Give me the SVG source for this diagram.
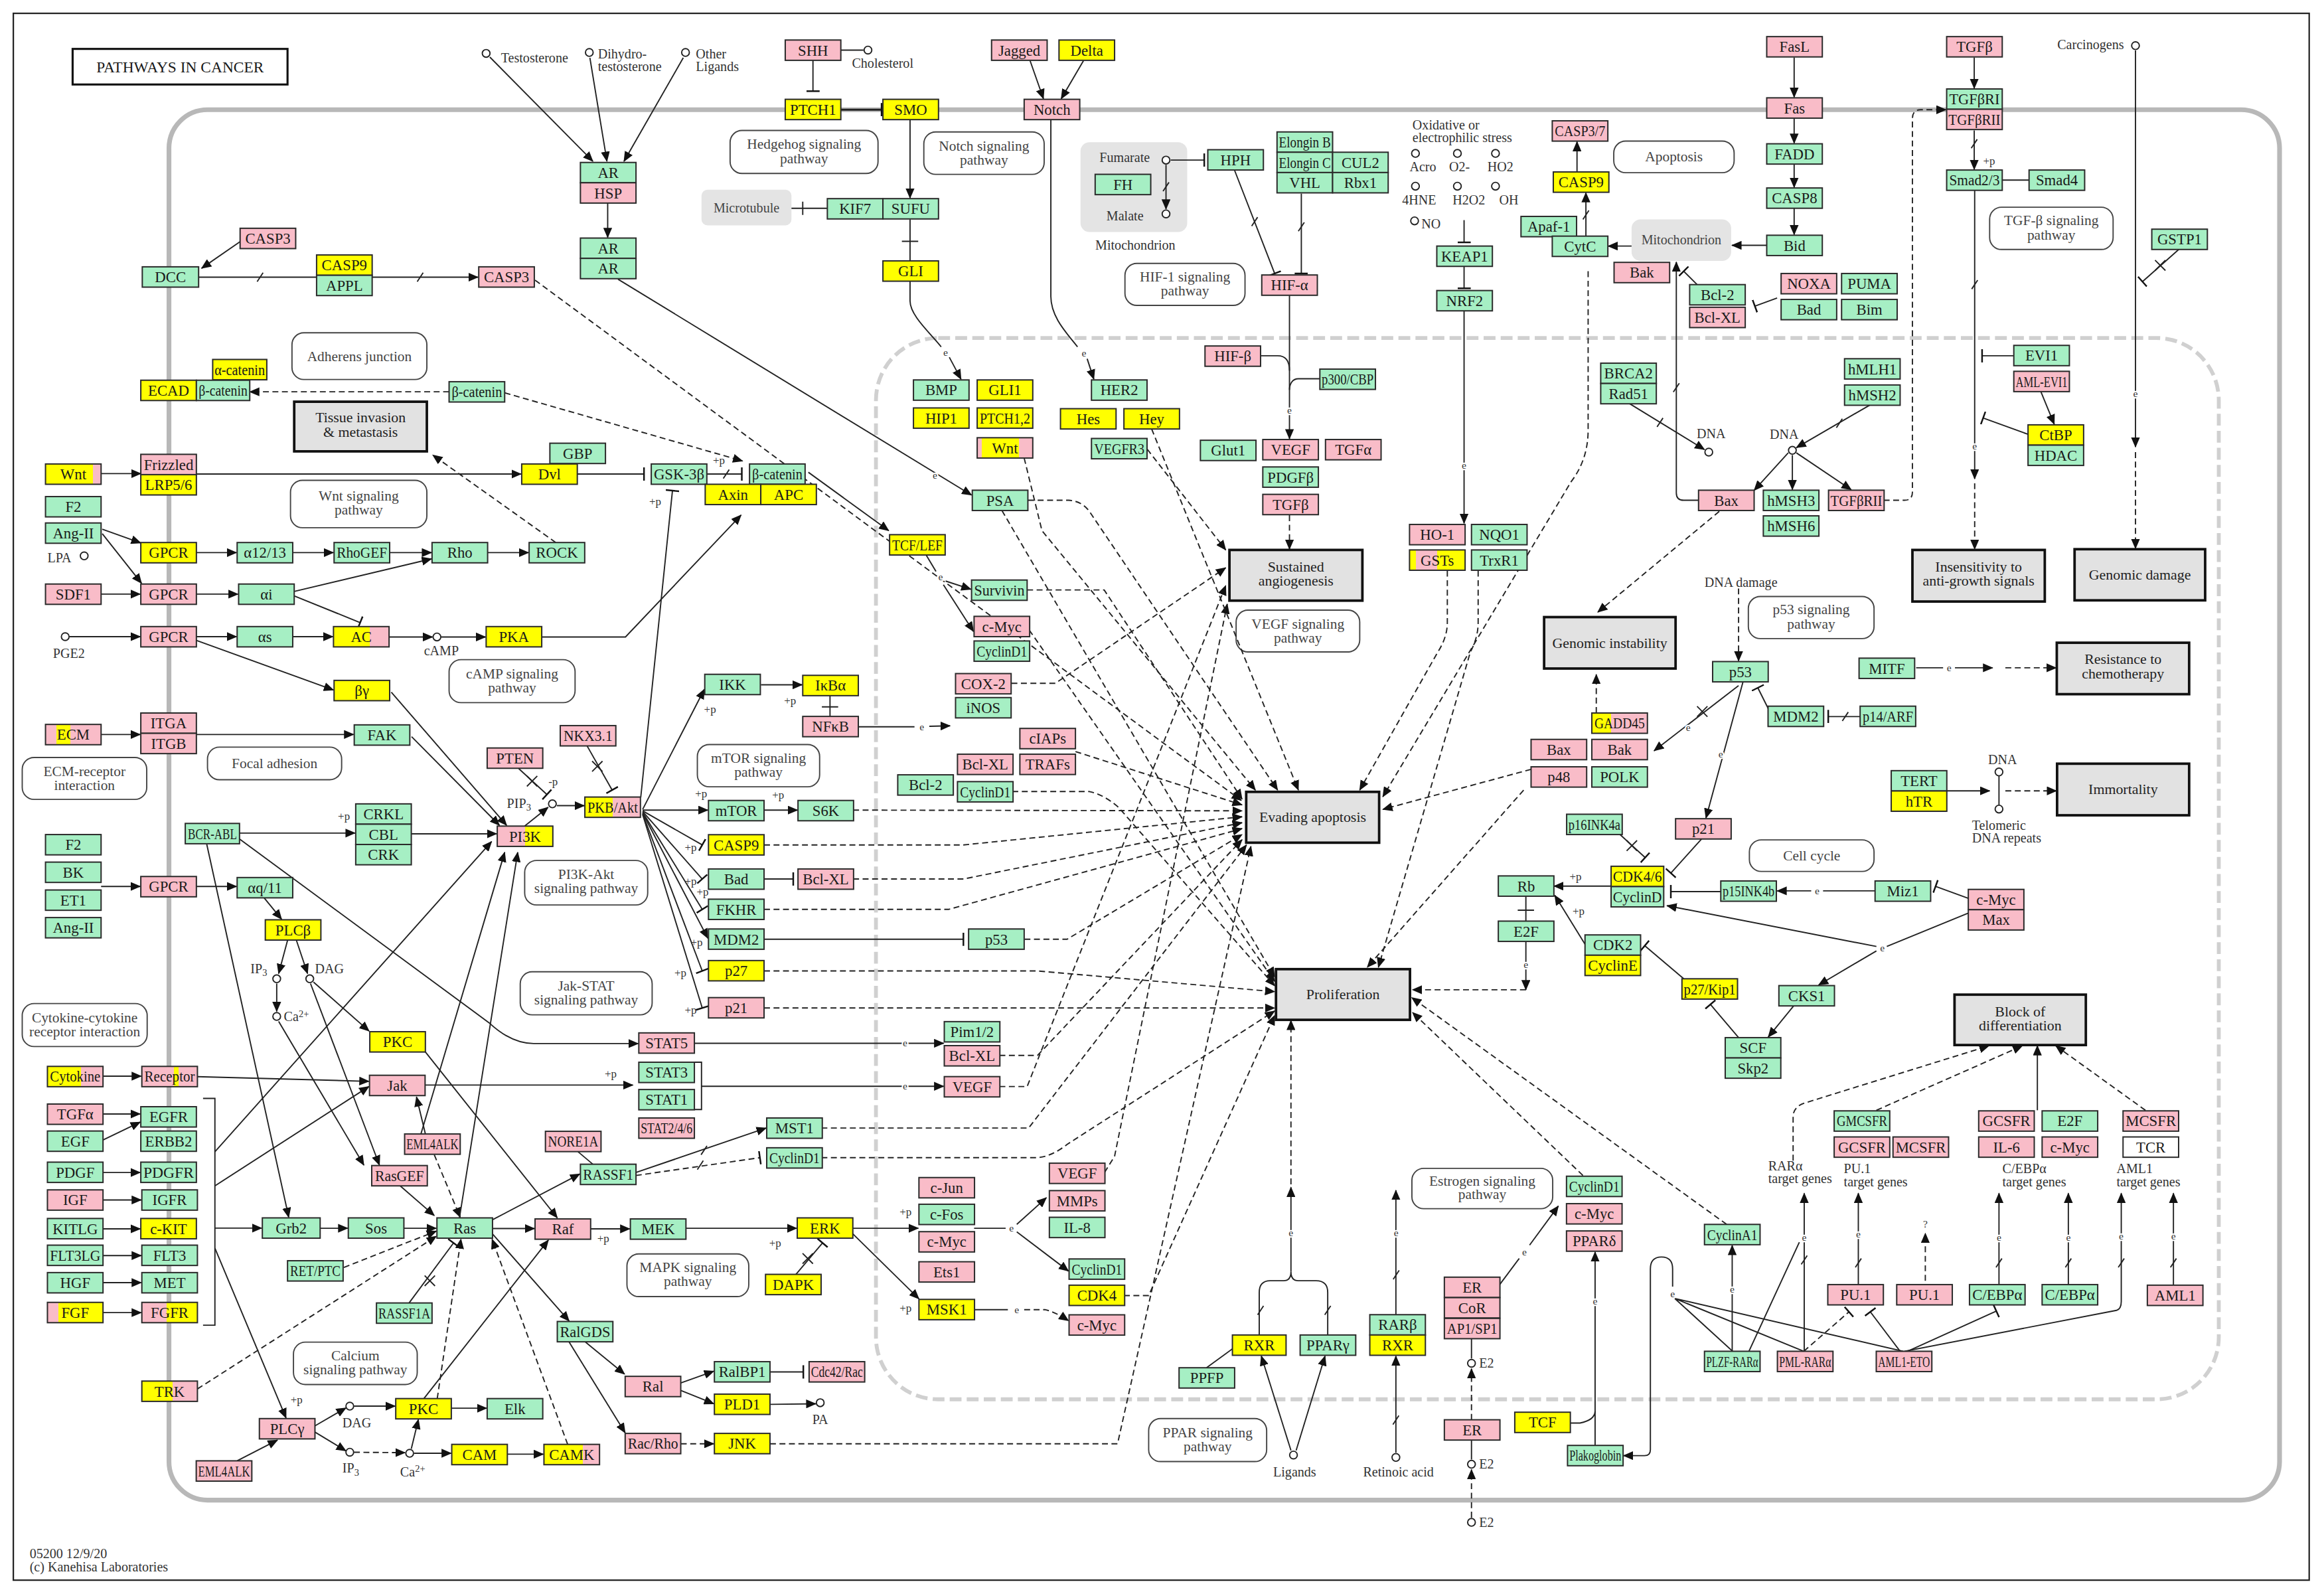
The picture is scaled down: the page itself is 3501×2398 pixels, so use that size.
<svg xmlns="http://www.w3.org/2000/svg" width="3501" height="2398" viewBox="0 0 3501 2398">
<defs>
<style>
.g{fill:#a6efc4}.p{fill:#f9bcc8}.y{fill:#ffff00}.w{fill:#fff}
rect.nd{stroke:#2b2b2b;stroke-width:0.9}
text{font-family:"Liberation Serif","Times New Roman",serif;fill:#1a1a1a}
.t{font-size:10.2px;text-anchor:middle}
.ph{fill:#e2e2e2;stroke:#111;stroke-width:1.7}
.pw{fill:#fff;stroke:#444;stroke-width:0.85}
.pt{font-size:9.6px;text-anchor:middle;fill:#444}
.pht{font-size:9.8px;text-anchor:middle;fill:#222}
.cp{fill:#e4e4e4;stroke:none}
.l{fill:none;stroke:#222;stroke-width:0.85}
.d{stroke-dasharray:4 2.4}
.a{marker-end:url(#ar)}
.i{marker-end:url(#inh)}
.c{fill:#fff;stroke:#222;stroke-width:0.85}
.s{font-size:9px;fill:#333}
.sm{font-size:9px;fill:#333;text-anchor:middle}
.e{font-size:7px;text-anchor:middle;fill:#333;stroke:#fff;stroke-width:2;paint-order:stroke}
.pp{font-size:7.6px;fill:#333}
</style>
<marker id="ar" markerUnits="userSpaceOnUse" markerWidth="7" markerHeight="6" refX="6.5" refY="3" orient="auto" viewBox="0 0 7 6"><path d="M0,0L7,3L0,6z" fill="#111"/></marker>
<marker id="inh" markerUnits="userSpaceOnUse" markerWidth="2" markerHeight="9" refX="1" refY="4.5" orient="auto" viewBox="0 0 2 9"><path d="M1,0V9" stroke="#111" stroke-width="1.1"/></marker>
<linearGradient id="gWnt"><stop offset=".85" stop-color="#ffff00"/><stop offset=".85" stop-color="#f9bcc8"/></linearGradient>
<linearGradient id="gWnt2"><stop offset=".08" stop-color="#f9bcc8"/><stop offset=".08" stop-color="#ffff00"/><stop offset=".75" stop-color="#ffff00"/><stop offset=".75" stop-color="#f9bcc8"/></linearGradient>
<linearGradient id="gAC"><stop offset=".65" stop-color="#ffff00"/><stop offset=".65" stop-color="#f9bcc8"/></linearGradient>
<linearGradient id="gECM"><stop offset=".2" stop-color="#f9bcc8"/><stop offset=".2" stop-color="#ffff00"/><stop offset=".45" stop-color="#ffff00"/><stop offset=".45" stop-color="#f9bcc8"/></linearGradient>
<linearGradient id="gPI3K"><stop offset=".5" stop-color="#f9bcc8"/><stop offset=".5" stop-color="#ffff00"/></linearGradient>
<linearGradient id="gAkt"><stop offset=".5" stop-color="#ffff00"/><stop offset=".5" stop-color="#f9bcc8"/></linearGradient>
<linearGradient id="gCyt"><stop offset=".6" stop-color="#ffff00"/><stop offset=".6" stop-color="#f9bcc8"/></linearGradient>
<linearGradient id="gRec"><stop offset=".58" stop-color="#f9bcc8"/><stop offset=".58" stop-color="#ffff00"/><stop offset=".66" stop-color="#ffff00"/><stop offset=".66" stop-color="#f9bcc8"/></linearGradient>
<linearGradient id="gFGF"><stop offset=".2" stop-color="#f9bcc8"/><stop offset=".2" stop-color="#ffff00"/></linearGradient>
<linearGradient id="gFGFR"><stop offset=".45" stop-color="#f9bcc8"/><stop offset=".45" stop-color="#ffff00"/></linearGradient>
<linearGradient id="gTRK"><stop offset=".55" stop-color="#ffff00"/><stop offset=".55" stop-color="#f9bcc8"/></linearGradient>
<linearGradient id="gCAMK"><stop offset=".7" stop-color="#ffff00"/><stop offset=".7" stop-color="#f9bcc8"/></linearGradient>
<linearGradient id="gGST"><stop offset=".12" stop-color="#ffff00"/><stop offset=".12" stop-color="#f9bcc8"/><stop offset=".5" stop-color="#f9bcc8"/><stop offset=".5" stop-color="#ffff00"/></linearGradient>
<linearGradient id="gGADD"><stop offset=".35" stop-color="#ffff00"/><stop offset=".35" stop-color="#f9bcc8"/></linearGradient>
</defs>
<rect width="3501" height="2398" fill="#fff"/>
<g transform="scale(2.2328)">
<g id="frame">
<rect x="9" y="9" width="1549" height="1057" fill="none" stroke="#222" stroke-width="1"/>
<rect x="114" y="74" width="1424" height="938" rx="26" fill="none" stroke="#b8b8b8" stroke-width="3.2"/>
<rect x="591" y="228" width="906" height="716" rx="42" fill="none" stroke="#d0d0d0" stroke-width="2.6" stroke-dasharray="8 3.5"/>
</g>
<g id="title"><rect x="49" y="33" width="145" height="24" fill="#fff" stroke="#111" stroke-width="1.4"/><text x="121.5" y="49" font-size="10.5" text-anchor="middle">PATHWAYS IN CANCER</text></g>
<g id="compartments">
<rect class="cp" x="473.3" y="128" width="60.7" height="24" rx="4"/><text class="sm" x="503.65" y="143.5" style="fill:#444">Microtubule</text>
<rect class="cp" x="729" y="96" width="72" height="60.5" rx="6"/>
<text class="sm" x="758.8" y="109.5">Fumarate</text><text class="sm" x="759" y="148.5">Malate</text><text class="sm" x="766" y="168.5">Mitochondrion</text>
<rect class="cp" x="1100.8" y="148" width="67.2" height="28" rx="6"/><text class="sm" x="1134.4" y="165" style="fill:#444">Mitochondrion</text>
</g>
<g id="pathway-links">
<rect class="pw" x="197" y="224.5" width="91" height="31.5" rx="8"/><text class="pt" x="242.5" y="243.5">Adherens junction</text>
<rect class="pw" x="196" y="324" width="92" height="32" rx="8"/><text class="pt" x="242" y="337.5">Wnt signaling</text><text class="pt" x="242" y="347">pathway</text>
<rect class="pw" x="303" y="445" width="85" height="29" rx="8"/><text class="pt" x="345.5" y="457.5">cAMP signaling</text><text class="pt" x="345.5" y="467">pathway</text>
<rect class="pw" x="15" y="511" width="84" height="28.3" rx="8"/><text class="pt" x="57" y="523.5">ECM-receptor</text><text class="pt" x="57" y="533">interaction</text>
<rect class="pw" x="140" y="504" width="90.5" height="22" rx="8"/><text class="pt" x="185.25" y="518">Focal adhesion</text>
<rect class="pw" x="354" y="580.5" width="83" height="30" rx="8"/><text class="pt" x="395.5" y="593">PI3K-Akt</text><text class="pt" x="395.5" y="602.5">signaling pathway</text>
<rect class="pw" x="351" y="655.6" width="89" height="29" rx="8"/><text class="pt" x="395.5" y="668">Jak-STAT</text><text class="pt" x="395.5" y="677.5">signaling pathway</text>
<rect class="pw" x="15" y="677" width="84.3" height="29" rx="8"/><text class="pt" x="57.15" y="689.5">Cytokine-cytokine</text><text class="pt" x="57.15" y="699">receptor interaction</text>
<rect class="pw" x="198" y="905.4" width="83.5" height="28.6" rx="8"/><text class="pt" x="239.75" y="917.5">Calcium</text><text class="pt" x="239.75" y="927">signaling pathway</text>
<rect class="pw" x="423" y="845.9" width="82.2" height="28.8" rx="8"/><text class="pt" x="464.1" y="858">MAPK signaling</text><text class="pt" x="464.1" y="867.5">pathway</text>
<rect class="pw" x="470.5" y="502.3" width="82.5" height="28.5" rx="8"/><text class="pt" x="511.75" y="514.5">mTOR signaling</text><text class="pt" x="511.75" y="524">pathway</text>
<rect class="pw" x="492.6" y="88" width="99.8" height="29" rx="8"/><text class="pt" x="542.5" y="100.5">Hedgehog signaling</text><text class="pt" x="542.5" y="110">pathway</text>
<rect class="pw" x="623.3" y="89" width="81.2" height="28.6" rx="8"/><text class="pt" x="663.9" y="101.5">Notch signaling</text><text class="pt" x="663.9" y="111">pathway</text>
<rect class="pw" x="759" y="177.7" width="81" height="28.3" rx="8"/><text class="pt" x="799.5" y="190">HIF-1 signaling</text><text class="pt" x="799.5" y="199.5">pathway</text>
<rect class="pw" x="834" y="411.6" width="83.4" height="28.2" rx="8"/><text class="pt" x="875.7" y="424">VEGF signaling</text><text class="pt" x="875.7" y="433.5">pathway</text>
<rect class="pw" x="1088.8" y="95.2" width="81.2" height="21.3" rx="8"/><text class="pt" x="1129.4" y="109">Apoptosis</text>
<rect class="pw" x="1342.4" y="139.8" width="83.3" height="28.5" rx="8"/><text class="pt" x="1384" y="152">TGF-β signaling</text><text class="pt" x="1384" y="161.5">pathway</text>
<rect class="pw" x="1179.6" y="402.4" width="84.8" height="28.4" rx="8"/><text class="pt" x="1222" y="414.5">p53 signaling</text><text class="pt" x="1222" y="424">pathway</text>
<rect class="pw" x="1180.3" y="566.6" width="84.1" height="21.3" rx="8"/><text class="pt" x="1222.35" y="580.5">Cell cycle</text>
<rect class="pw" x="775" y="957" width="79.6" height="29" rx="8"/><text class="pt" x="814.8" y="969.5">PPAR signaling</text><text class="pt" x="814.8" y="979">pathway</text>
<rect class="pw" x="952.6" y="788.2" width="95" height="27.2" rx="8"/><text class="pt" x="1000.1" y="800">Estrogen signaling</text><text class="pt" x="1000.1" y="809">pathway</text>
</g>
<g id="connectors">
<path class="l a" d="M162,163L136,181"/>
<path class="l a" d="M134,187L322.5,187"/>
<path class="l a" d="M330.5,38.5L400,108.8"/>
<path class="l a" d="M398,39L409.5,108.8"/>
<path class="l a" d="M461,39L421,108.8"/>
<path class="l a" d="M410,137V160.2"/>
<path class="l a" d="M417,188.4L655.5,334"/>
<path class="l" d="M567.3,33.8H582.6"/>
<path class="l i" d="M548.5,40.7V61.5"/>
<path class="l i" d="M567.3,74H594.8" style="stroke-width:1.3"/>
<path class="l a" d="M614,80.6V133.6"/>
<path class="l" d="M614,148V176M608.5,162.8H619.5"/>
<path class="l" d="M614,189.6V203C614,213 628,225 635,234"/>
<path class="l a" d="M640.5,241L648.4,255.8"/>
<path class="l" d="M534,140.5H558M541.6,136V145"/>
<path class="l a" d="M695,41L704,66.6"/>
<path class="l a" d="M731,41L716,66.6"/>
<path class="l" d="M709,80.6V200C709,214 720,225 727,234"/>
<path class="l a" d="M733.5,242L738,255.8"/>
<path class="l a" d="M786.7,111.2V141"/>
<path class="l i" d="M789.9,108H812.5"/>
<path class="l i" d="M833,115L860,184.5"/>
<path class="l i" d="M878,130.6V184.5"/>
<path class="l a" d="M870,199.4V296"/>
<path class="l" d="M850.8,240H862C868,240 870,244 870,250"/>
<path class="l" d="M890.5,255.5H876C872,255.5 870,259 870,263"/>
<path class="l i" d="M987.8,148.5V163.5"/>
<path class="l i" d="M987.8,180V194.5"/>
<path class="l a" d="M987.8,209.7V353"/>
<path class="l a" d="M1064,116V95.6"/>
<path class="l a" d="M1070,159.3V130"/>
<path class="l a" d="M1100.8,166H1085"/>
<path class="l a" d="M1192,165.5H1168.5"/>
<path class="l a" d="M1210.5,38.8V65.6"/>
<path class="l a" d="M1210.5,80V96.6"/>
<path class="l a" d="M1210.5,110.8V126.4"/>
<path class="l a" d="M1210.5,140.5V158.3"/>
<path class="l i" d="M1199,201L1184,206.5"/>
<path class="l a" d="M1146,337.5H1136Q1131,337.5 1131,332.5V176.8"/>
<path class="l i" d="M1145,192L1136,183"/>
<path class="l a" d="M1099,272L1150,303.3"/>
<path class="l a" d="M1332,38.8V59.6"/>
<path class="l a" d="M1332,88V114.3"/>
<path class="l" d="M1351,121.5H1369"/>
<path class="l a" d="M1332.3,128.4V323"/>
<path class="l d a" d="M1332.3,326V370.5"/>
<path class="l a" d="M1440.8,34V301.5"/>
<path class="l d a" d="M1440.8,305V370"/>
<path class="l i" d="M1470,168.3L1445.5,190"/>
<path class="l i" d="M1358.7,240H1337.3"/>
<path class="l a" d="M1377,264.3L1386,286.2"/>
<path class="l i" d="M1368.3,293L1338,282"/>
<path class="l a" d="M1262,273L1212,302"/>
<path class="l a" d="M1206.5,305.5L1183.5,330.8"/>
<path class="l a" d="M1209.3,307V330.3"/>
<path class="l a" d="M1212,305.5L1249,330.4"/>
<path class="l d a" d="M1270.9,337.5H1285Q1290.3,337.5 1290.3,332V80Q1290.3,74 1296,74H1312.9"/>
<path class="l a" d="M68.2,319.5H95"/>
<path class="l a" d="M132.5,319.8H351.6"/>
<path class="l i" d="M389.5,319.8H434.5"/>
<path class="l i" d="M476.3,319.8H500.5"/>
<path class="l i" d="M432.3,538L453.7,331"/>
<path class="l a" d="M365.6,429.7H422L500,347.5"/>
<path class="l a" d="M545.4,318.6L599.6,358"/>
<path class="l d a" d="M303,264.3H168.5"/>
<path class="l d a" d="M340.5,265L501,311"/>
<path class="l d a" d="M375,366L292,307"/>
<path class="l a" d="M69,357L95,366.3"/>
<path class="l a" d="M69,360L95.5,393.5"/>
<path class="l a" d="M132.5,372.8H159.6"/>
<path class="l a" d="M197.5,372.8H225"/>
<path class="l a" d="M263,372.8H291.1"/>
<path class="l a" d="M329,372.8H356.6"/>
<path class="l a" d="M68.2,400.8H94.6"/>
<path class="l a" d="M132.5,400.8H160.6"/>
<path class="l a" d="M198.5,399L291.1,377"/>
<path class="l i" d="M198.5,402L243,420"/>
<path class="l a" d="M46.8,429.5H94.6"/>
<path class="l a" d="M132.5,429.5H159.6"/>
<path class="l a" d="M197.5,429.5H224.6"/>
<path class="l a" d="M262.5,429.7H291.8"/>
<path class="l a" d="M297.6,429.7H327.6"/>
<path class="l a" d="M132.5,432L225,465.5"/>
<path class="l a" d="M264,467L341.8,556.8"/>
<path class="l a" d="M68.2,495.5H94.6"/>
<path class="l a" d="M132.5,495.5H238.6"/>
<path class="l a" d="M277.7,497L337,556.8"/>
<path class="l a" d="M161.6,562H239.6"/>
<path class="l a" d="M277.5,562.5H335.1"/>
<path class="l a" d="M161.6,566L330,690Q345,704 360,704H430.6"/>
<path class="l a" d="M139.5,569.6L194.8,821.2"/>
<path class="l a" d="M68.2,598H94.6"/>
<path class="l a" d="M132.5,598H159.6"/>
<path class="l a" d="M178,605.5L190,620.1"/>
<path class="l a" d="M194,634.4L188,656.8"/>
<path class="l a" d="M200,634.4L207.5,656.8"/>
<path class="l a" d="M186.7,663.5V682.3"/>
<path class="l a" d="M211.5,662.5L249,695.6"/>
<path class="l a" d="M209.5,663.5L256,786"/>
<path class="l a" d="M188,689L245.5,786"/>
<path class="l a" d="M286.5,709L376,821.6"/>
<path class="l a" d="M69.5,726H95.3"/>
<path class="l a" d="M133.2,726.3L248.9,729.5"/>
<path class="l" d="M137,741H145V894H137"/>
<path class="l a" d="M145,777L331.7,567.7"/>
<path class="l a" d="M145,800L248.9,733"/>
<path class="l a" d="M145,828.5H176.6"/>
<path class="l a" d="M145,842L193,956.6"/>
<path class="l a" d="M69.5,751.5H94.6"/>
<path class="l a" d="M69.5,769L94.6,757"/>
<path class="l a" d="M69.5,791H94.6"/>
<path class="l a" d="M69.5,809.5H95.3"/>
<path class="l a" d="M69.5,829H94.6"/>
<path class="l a" d="M69.5,847H95.3"/>
<path class="l a" d="M69.5,865.3H95.3"/>
<path class="l a" d="M69.5,885.5H95.3"/>
<path class="l a" d="M287,765L281,740"/>
<path class="l a" d="M284,765L340.5,575"/>
<path class="l d a" d="M293,779L310.5,821.2"/>
<path class="l a" d="M310,821.6L349.3,575"/>
<path class="l a" d="M216,828.6H234.6"/>
<path class="l a" d="M272.5,828.6H294.4"/>
<path class="l a" d="M270,800L293,820"/>
<path class="l d a" d="M232,855L294.4,830.5"/>
<path class="l d a" d="M133.2,937L294.4,834"/>
<path class="l i" d="M276,879L306,838.5"/>
<path class="l d a" d="M295,943.5L311,835.9"/>
<path class="l d a" d="M383,974.4L332,836"/>
<path class="l a" d="M286,943.5L370,836.6"/>
<path class="l a" d="M332,828.8H360.6"/>
<path class="l a" d="M332,823L391.2,792"/>
<path class="l a" d="M331,831L384,891.2"/>
<path class="l" d="M390,777L400,785.4"/>
<path class="l a" d="M429,791L516.9,761"/>
<path class="l d i" d="M429,793L512.7,781"/>
<path class="l a" d="M286.8,732H427"/>
<path class="l" d="M468.8,716.6H473.3V748.5H468.8"/>
<path class="l a" d="M473.3,732.8H636.7"/>
<path class="l a" d="M468.8,703.8H636.7"/>
<path class="l a" d="M398.4,829H424.9"/>
<path class="l a" d="M462.8,828.6H537.5"/>
<path class="l i" d="M537,859.7L555,838.5"/>
<path class="l a" d="M575,828.6H619.6"/>
<path class="l a" d="M575,832L620,876.2"/>
<path class="l" d="M657.2,828.6H678.5"/>
<path class="l a" d="M686,826L706,808"/>
<path class="l a" d="M686,831L720.9,857.5"/>
<path class="l" d="M657.2,883.5H680"/>
<path class="l d a" d="M691,883.5H705Q712,885 720.9,891"/>
<path class="l a" d="M395,905.4L421.4,927"/>
<path class="l a" d="M384,905.4L421.8,966.6"/>
<path class="l a" d="M459.3,933L481.6,925"/>
<path class="l a" d="M459.3,938L481.6,947"/>
<path class="l i" d="M519.8,925.5H542"/>
<path class="l a" d="M519.8,947.4L550.4,947"/>
<path class="l d a" d="M459.3,974H481.6"/>
<path class="l a" d="M212.3,962L233.4,949.8"/>
<path class="l a" d="M212.3,966L233.4,978.8"/>
<path class="l a" d="M238.8,948.6H266.6"/>
<path class="l d a" d="M238.8,979.7L273.3,980"/>
<path class="l a" d="M277.5,977.4L282.3,957.6"/>
<path class="l a" d="M279.4,980.4H304.4"/>
<path class="l a" d="M342.5,981H366.6"/>
<path class="l a" d="M304.2,950H328.3"/>
<path class="l a" d="M160,985.5L187.2,971.5"/>
<path class="l a" d="M354,557.3L369.8,544.6"/>
<path class="l i" d="M350,518.5L369,536"/>
<path class="l a" d="M375.7,543.5H394.2"/>
<path class="l i" d="M396,503L413,533"/>
<path class="l a" d="M433.6,546L475.2,465"/>
<path class="l a" d="M433.6,546.5H477.6"/>
<path class="l i" d="M433.6,547L473.8,570"/>
<path class="l i" d="M433.6,547.5L473.8,593"/>
<path class="l i" d="M433.6,548L473.8,613.5"/>
<path class="l a" d="M433.6,548.5L477.6,633"/>
<path class="l i" d="M433.6,549L473.8,655"/>
<path class="l i" d="M433.6,549.5L473.8,680"/>
<path class="l a" d="M513.4,462H541.2"/>
<path class="l" d="M560,469.4V483.3M554.5,476.9H565.5"/>
<path class="l" d="M578.8,490.3H617"/>
<path class="l a" d="M627,490L641,489.6"/>
<path class="l a" d="M515.5,546.5H538"/>
<path class="l i" d="M515.5,593H535.2"/>
<path class="l i" d="M515.5,633.6H650"/>
<path class="l" d="M625,374.6L631.5,385.5"/>
<path class="l a" d="M638,392L655.1,397.5"/>
<path class="l a" d="M636.5,394.5L656.8,426"/>
<path class="l" d="M814,922.7L831.5,910"/>
<path class="l a" d="M871,978.5L851,914.8"/>
<path class="l a" d="M874.5,978.5L894,914.8"/>
<path class="l" d="M849.6,900.6V872Q849.6,864 857,864H866Q871,864 871,858M895.8,900.6V872Q895.8,864 888,864H876Q871,864 871,858"/>
<path class="l a" d="M871,858V801"/>
<path class="l d a" d="M871,799V688.4"/>
<path class="l a" d="M941.8,980V914.8"/>
<path class="l a" d="M941.8,886.9V803"/>
<path class="l" d="M992.8,903.2V916.5"/>
<path class="l d a" d="M992.8,957.8V923.4"/>
<path class="l" d="M992.8,971.5V984.6"/>
<path class="l d a" d="M992.8,1023.8V991.4"/>
<path class="l" d="M1011.7,866.8L1025,849"/>
<path class="l a" d="M1032,840L1051.4,813.6"/>
<path class="l a" d="M1076.2,975V844.6"/>
<path class="l" d="M1058.9,960H1066Q1076,958 1076.2,952"/>
<path class="l a" d="M1128.5,868V856Q1128.5,848 1121,848Q1113.5,848 1113.5,856V978Q1113.5,982 1109.5,982H1095.4"/>
<path class="l" d="M1130,876L1169,911.6M1130,876L1217,911.6M1130,876L1284,911.6"/>
<path class="l a" d="M1168.7,911.6V840.2"/>
<path class="l" d="M1180,911.6L1214,838"/>
<path class="l a" d="M1217.3,911.6V805"/>
<path class="l a" d="M1253.8,866.6V805"/>
<path class="l d a" d="M1299,864V832"/>
<path class="l a" d="M1348.7,866.6V805"/>
<path class="l a" d="M1395.5,866.6V805"/>
<path class="l a" d="M1285,911.6L1428,884Q1431.2,883 1431.2,878V805"/>
<path class="l a" d="M1466.4,867V805"/>
<path class="l d i" d="M1217,911.6L1247.5,885"/>
<path class="l i" d="M1282,911.6L1261.9,885"/>
<path class="l i" d="M1287,911.6L1346.9,884.5"/>
<path class="l d a" d="M1209.8,783V752Q1211,746 1218,744L1341.9,705.5"/>
<path class="l d a" d="M1266,749L1364.5,705.5"/>
<path class="l a" d="M1374.6,749V705.5"/>
<path class="l d a" d="M1447.5,749L1387,705.5"/>
<path class="l a" d="M1313.4,533.5H1342.4"/>
<path class="l" d="M1348.7,523.4V543.2"/>
<path class="l d a" d="M1353,533.5H1387.5"/>
<path class="l" d="M1292.8,450.5H1311"/>
<path class="l a" d="M1319,450.5H1344.4"/>
<path class="l d a" d="M1353,450.5H1387.3"/>
<path class="l d a" d="M1173,397V445.9"/>
<path class="l i" d="M1193,478L1186,464"/>
<path class="l i" d="M1255,483.4H1233.5"/>
<path class="l a" d="M1173,462.5L1116,506.5"/>
<path class="l a" d="M1176,460L1151,551.9"/>
<path class="l d a" d="M1077,481V455"/>
<path class="l d a" d="M1160,345L1078,413"/>
<path class="l i" d="M1093,563L1110,578.5"/>
<path class="l i" d="M1148,566L1127.3,589"/>
<path class="l i" d="M1161,601.5H1127.3"/>
<path class="l" d="M1265.1,601H1230"/>
<path class="l a" d="M1222,601H1199"/>
<path class="l i" d="M1328,606L1305.9,598"/>
<path class="l" d="M1328,616L1273,638.5"/>
<path class="l a" d="M1266,638.5L1124.7,611"/>
<path class="l a" d="M1266,641.5L1227,664.5"/>
<path class="l a" d="M1087,597.8H1048.4"/>
<path class="l a" d="M1069.4,637L1049,604"/>
<path class="l" d="M1029.5,604.8V621.4M1024,614H1035"/>
<path class="l a" d="M1029.5,635.3V667.7"/>
<path class="l d a" d="M1029.5,667.7H953"/>
<path class="l i" d="M1136,660.3L1109.7,638"/>
<path class="l i" d="M1173,700L1154,677.6"/>
<path class="l a" d="M1210,678.8L1193,699.6"/>
<path class="l d a" d="M361,189L837.5,540"/>
<path class="l d a" d="M870,347.6V370.5"/>
<path class="l d a" d="M774,303L827,371"/>
<path class="l d a" d="M682.4,461H712L827,383"/>
<path class="l d a" d="M674.3,733H693L827,395"/>
<path class="l d a" d="M745.2,791L752,780L828,407.5"/>
<path class="l d a" d="M693,398H745L838,539"/>
<path class="l d a" d="M725.6,507L838,543"/>
<path class="l d a" d="M575.6,546.5L838,547"/>
<path class="l d a" d="M515.5,570H650L838,551"/>
<path class="l d a" d="M575.6,593H650L838,555"/>
<path class="l d a" d="M515.5,613.5H640L838,559"/>
<path class="l d a" d="M691.2,633.6H720L838,563"/>
<path class="l d a" d="M674.3,712H700L838,566.5"/>
<path class="l d a" d="M554.2,761H694L841,570"/>
<path class="l d a" d="M519.5,974H754L844,571"/>
<path class="l d a" d="M691,309L703,358L847,533"/>
<path class="l d a" d="M693.7,337.5H721Q730,338 735,345L862,533"/>
<path class="l d a" d="M777,289.4L876,533"/>
<path class="l d a" d="M1071.5,183V290Q1071.5,310 1060,325L933,537.5"/>
<path class="l d a" d="M976.5,385V420Q976.5,430 970,440L917.4,533"/>
<path class="l d a" d="M997.3,385V420Q997.3,430 992,440L930,652.5"/>
<path class="l d a" d="M1033,519L933,546"/>
<path class="l d a" d="M1028,533L922.5,652.5"/>
<path class="l d a" d="M676,344.4L860,659"/>
<path class="l d a" d="M694.4,425L860,662"/>
<path class="l d a" d="M683,534H735Q745,536 755,545L860,665"/>
<path class="l d a" d="M515.5,655H700L860,669"/>
<path class="l d a" d="M515.5,680H860"/>
<path class="l d a" d="M554.2,781H700Q710,780 720,772L860,682"/>
<path class="l d a" d="M758.3,874H775L860,685"/>
<path class="l d a" d="M1068,793L953,683"/>
<path class="l d a" d="M1165,826L952.5,673"/>
<path class="l" d="M173.5,190L177.5,184M281.5,190L285.5,184M784.7,129L788.7,123M844.5,152.5L848.5,146.5M876,156L880,150M1068,148L1072,142M1129,264.5L1133,258.5M1118,288L1122,282M1330,100L1334,94M1330.3,195L1334.3,189M1239,288.5L1243,282.5M488,322.8L492,316.8M473,779L477,773M470.5,789L474.5,783M848.5,887L852.5,881M893.8,887L897.8,881M939.8,961L943.8,955M940,863L944,857M1215.3,853L1219.3,847M1251.8,855L1255.8,849M1346.7,855L1350.7,849M1393.5,855L1397.5,849M1429.2,855L1433.2,849M1464.4,855L1468.4,849M1243,486.4L1247,480.4"/>
<path class="l" d="M1454,175.5L1461,182.5M1454,182.5L1461,175.5M286.5,860.5L293.5,867.5M286.5,867.5L293.5,860.5M355.5,523.5L362.5,530.5M355.5,530.5L362.5,523.5M399.5,513.5L406.5,520.5M399.5,520.5L406.5,513.5M541.5,845.5L548.5,852.5M541.5,852.5L548.5,845.5M1145,476.5L1152,483.5M1145,483.5L1152,476.5M1097.5,567L1104.5,574M1097.5,574L1104.5,567"/>
</g>
<g id="phenotypes">
<g id="ph_tissue"><rect class="ph" x="198.5" y="271" width="89.5" height="33.5"/><text class="pht" x="243.25" y="285">Tissue invasion</text><text class="pht" x="243.25" y="294.5">&amp; metastasis</text></g>
<g id="ph_angio"><rect class="ph" x="829.5" y="371" width="89.7" height="34.2"/><text class="pht" x="874.35" y="385.5">Sustained</text><text class="pht" x="874.35" y="395">angiogenesis</text></g>
<g id="ph_evading"><rect class="ph" x="840.8" y="534.2" width="89.7" height="34.3"/><text class="pht" x="885.65" y="554.5">Evading apoptosis</text></g>
<g id="ph_prolif"><rect class="ph" x="860.9" y="653.8" width="90.4" height="34.2"/><text class="pht" x="906.1" y="674">Proliferation</text></g>
<g id="ph_geninst"><rect class="ph" x="1041.8" y="416.3" width="88.7" height="34.7"/><text class="pht" x="1086.15" y="437">Genomic instability</text></g>
<g id="ph_insens"><rect class="ph" x="1290.3" y="371" width="89.3" height="34.8"/><text class="pht" x="1334.95" y="385.5">Insensitivity to</text><text class="pht" x="1334.95" y="395">anti-growth signals</text></g>
<g id="ph_gendam"><rect class="ph" x="1399.7" y="370.5" width="88.1" height="34.5"/><text class="pht" x="1443.75" y="391">Genomic damage</text></g>
<g id="ph_resist"><rect class="ph" x="1387.7" y="433.6" width="89.3" height="34.7"/><text class="pht" x="1432.35" y="448">Resistance to</text><text class="pht" x="1432.35" y="457.5">chemotherapy</text></g>
<g id="ph_immort"><rect class="ph" x="1387.9" y="515.2" width="89.1" height="34.8"/><text class="pht" x="1432.45" y="535.5">Immortality</text></g>
<g id="ph_block"><rect class="ph" x="1318.7" y="671" width="88.6" height="34"/><text class="pht" x="1363" y="685.5">Block of</text><text class="pht" x="1363" y="695">differentiation</text></g>
</g>
<g id="nodes">
<g id="wnt1"><rect class="nd" fill="url(#gWnt)" x="30.7" y="313" width="37.5" height="13.7"/><text class="t" x="49.45" y="323.4">Wnt</text></g>
<g id="f2a"><rect class="nd g" x="30.7" y="335" width="37.5" height="13.7"/><text class="t" x="49.45" y="345.4">F2</text></g>
<g id="ang2a"><rect class="nd g" x="30.7" y="352.8" width="37.5" height="13.7"/><text class="t" x="49.45" y="363.2">Ang-II</text></g>
<g id="sdf1"><rect class="nd p" x="30.7" y="394" width="37.5" height="13.7"/><text class="t" x="49.45" y="404.4">SDF1</text></g>
<g id="ecm"><rect class="nd" fill="url(#gECM)" x="30.7" y="488.7" width="37.5" height="13.7"/><text class="t" x="49.45" y="499.1">ECM</text></g>
<g id="f2b"><rect class="nd g" x="30.7" y="563" width="37.5" height="13.7"/><text class="t" x="49.45" y="573.4">F2</text></g>
<g id="bk"><rect class="nd g" x="30.7" y="581.6" width="37.5" height="13.7"/><text class="t" x="49.45" y="592">BK</text></g>
<g id="et1"><rect class="nd g" x="30.7" y="600.4" width="37.5" height="13.7"/><text class="t" x="49.45" y="610.8">ET1</text></g>
<g id="ang2b"><rect class="nd g" x="30.7" y="619" width="37.5" height="13.7"/><text class="t" x="49.45" y="629.4">Ang-II</text></g>
<g id="cytokine"><rect class="nd" fill="url(#gCyt)" x="32" y="719.4" width="37.5" height="13.7"/><text class="t" x="50.75" y="729.8" textLength="34" lengthAdjust="spacingAndGlyphs">Cytokine</text></g>
<g id="tgfa1"><rect class="nd p" x="32" y="744.8" width="37.5" height="13.7"/><text class="t" x="50.75" y="755.2">TGFα</text></g>
<g id="egf"><rect class="nd g" x="32" y="763" width="37.5" height="13.7"/><text class="t" x="50.75" y="773.4">EGF</text></g>
<g id="pdgf"><rect class="nd g" x="32" y="784" width="37.5" height="13.7"/><text class="t" x="50.75" y="794.4">PDGF</text></g>
<g id="igf"><rect class="nd p" x="32" y="802.7" width="37.5" height="13.7"/><text class="t" x="50.75" y="813.1">IGF</text></g>
<g id="kitlg"><rect class="nd g" x="32" y="822" width="37.5" height="13.7"/><text class="t" x="50.75" y="832.4">KITLG</text></g>
<g id="flt3lg"><rect class="nd g" x="32" y="840" width="37.5" height="13.7"/><text class="t" x="50.75" y="850.4" textLength="34" lengthAdjust="spacingAndGlyphs">FLT3LG</text></g>
<g id="hgf"><rect class="nd g" x="32" y="858.5" width="37.5" height="13.7"/><text class="t" x="50.75" y="868.9">HGF</text></g>
<g id="fgf"><rect class="nd" fill="url(#gFGF)" x="32" y="878.6" width="37.5" height="13.7"/><text class="t" x="50.75" y="889">FGF</text></g>
<g id="frizzled"><rect class="nd p" x="95" y="306.5" width="37.5" height="13.7"/><text class="t" x="113.75" y="316.9">Frizzled</text><rect class="nd y" x="95" y="320.2" width="37.5" height="13.7"/><text class="t" x="113.75" y="330.6">LRP5/6</text></g>
<g id="ecad"><rect class="nd y" x="95" y="256.5" width="37.5" height="13.7"/><text class="t" x="113.75" y="266.9">ECAD</text></g>
<g id="bcat1"><rect class="nd g" x="132.5" y="256.5" width="36" height="13.7"/><text class="t" x="150.5" y="266.9" textLength="33" lengthAdjust="spacingAndGlyphs">β-catenin</text></g>
<g id="acat"><rect class="nd y" x="143.5" y="242.5" width="36.5" height="13.7"/><text class="t" x="161.75" y="252.9" textLength="34" lengthAdjust="spacingAndGlyphs">α-catenin</text></g>
<g id="gpcr1"><rect class="nd y" x="95" y="366" width="37.5" height="13.7"/><text class="t" x="113.75" y="376.4">GPCR</text></g>
<g id="gpcr2"><rect class="nd p" x="95" y="394" width="37.5" height="13.7"/><text class="t" x="113.75" y="404.4">GPCR</text></g>
<g id="gpcr3"><rect class="nd p" x="95" y="422.7" width="37.5" height="13.7"/><text class="t" x="113.75" y="433.1">GPCR</text></g>
<g id="itg"><rect class="nd p" x="95" y="481" width="37.5" height="13.7"/><text class="t" x="113.75" y="491.4">ITGA</text><rect class="nd p" x="95" y="494.7" width="37.5" height="13.7"/><text class="t" x="113.75" y="505.1">ITGB</text></g>
<g id="gpcr4"><rect class="nd p" x="95" y="591.3" width="37.5" height="13.7"/><text class="t" x="113.75" y="601.7">GPCR</text></g>
<g id="receptor"><rect class="nd" fill="url(#gRec)" x="95.7" y="719.4" width="37.5" height="13.7"/><text class="t" x="114.45" y="729.8" textLength="34" lengthAdjust="spacingAndGlyphs">Receptor</text></g>
<g id="egfr"><rect class="nd g" x="95" y="746.6" width="37.5" height="13.7"/><text class="t" x="113.75" y="757">EGFR</text></g>
<g id="erbb2"><rect class="nd g" x="95" y="763" width="37.5" height="13.7"/><text class="t" x="113.75" y="773.4">ERBB2</text></g>
<g id="pdgfr"><rect class="nd g" x="95" y="784" width="37.5" height="13.7"/><text class="t" x="113.75" y="794.4" textLength="34" lengthAdjust="spacingAndGlyphs">PDGFR</text></g>
<g id="igfr"><rect class="nd g" x="95.7" y="802.7" width="37.5" height="13.7"/><text class="t" x="114.45" y="813.1">IGFR</text></g>
<g id="ckit"><rect class="nd y" x="95" y="822" width="37.5" height="13.7"/><text class="t" x="113.75" y="832.4">c-KIT</text></g>
<g id="flt3"><rect class="nd g" x="95.7" y="840" width="37.5" height="13.7"/><text class="t" x="114.45" y="850.4">FLT3</text></g>
<g id="met"><rect class="nd g" x="95.7" y="858.5" width="37.5" height="13.7"/><text class="t" x="114.45" y="868.9">MET</text></g>
<g id="fgfr"><rect class="nd" fill="url(#gFGFR)" x="95.7" y="878.6" width="37.5" height="13.7"/><text class="t" x="114.45" y="889">FGFR</text></g>
<g id="trk"><rect class="nd" fill="url(#gTRK)" x="95.7" y="931.7" width="37.5" height="13.7"/><text class="t" x="114.45" y="942.1">TRK</text></g>
<g id="dcc"><rect class="nd g" x="96" y="180" width="38" height="13.7"/><text class="t" x="115" y="190.4">DCC</text></g>
<g id="casp3a"><rect class="nd p" x="162" y="154" width="37.5" height="13.7"/><text class="t" x="180.75" y="164.4">CASP3</text></g>
<g id="casp9appl"><rect class="nd y" x="213.6" y="172" width="37.5" height="13.7"/><text class="t" x="232.35" y="182.4">CASP9</text><rect class="nd g" x="213.6" y="185.7" width="37.5" height="13.7"/><text class="t" x="232.35" y="196.1">APPL</text></g>
<g id="casp3b"><rect class="nd p" x="323" y="180" width="37.5" height="13.7"/><text class="t" x="341.75" y="190.4">CASP3</text></g>
<g id="bcat2"><rect class="nd g" x="303" y="257.5" width="37.5" height="13.7"/><text class="t" x="321.75" y="267.9" textLength="34" lengthAdjust="spacingAndGlyphs">β-catenin</text></g>
<g id="gbp"><rect class="nd g" x="371" y="299" width="37.5" height="13.7"/><text class="t" x="389.75" y="309.4">GBP</text></g>
<g id="dvl"><rect class="nd y" x="352" y="313" width="37.5" height="13.7"/><text class="t" x="370.75" y="323.4">Dvl</text></g>
<g id="a1213"><rect class="nd g" x="160" y="366" width="37.5" height="13.7"/><text class="t" x="178.75" y="376.4">α12/13</text></g>
<g id="rhogef"><rect class="nd g" x="225.4" y="366" width="37.5" height="13.7"/><text class="t" x="244.15" y="376.4" textLength="34" lengthAdjust="spacingAndGlyphs">RhoGEF</text></g>
<g id="rho"><rect class="nd g" x="291.5" y="366" width="37.5" height="13.7"/><text class="t" x="310.25" y="376.4">Rho</text></g>
<g id="rock"><rect class="nd g" x="357" y="366" width="37.5" height="13.7"/><text class="t" x="375.75" y="376.4">ROCK</text></g>
<g id="ai"><rect class="nd g" x="161" y="394" width="37.5" height="13.7"/><text class="t" x="179.75" y="404.4">αi</text></g>
<g id="as"><rect class="nd g" x="160" y="422.7" width="37.5" height="13.7"/><text class="t" x="178.75" y="433.1">αs</text></g>
<g id="ac"><rect class="nd" fill="url(#gAC)" x="225" y="422.7" width="37.5" height="13.7"/><text class="t" x="243.75" y="433.1">AC</text></g>
<g id="pka"><rect class="nd y" x="328" y="422.7" width="37.5" height="13.7"/><text class="t" x="346.75" y="433.1">PKA</text></g>
<g id="bg"><rect class="nd y" x="225.4" y="459" width="37.5" height="13.7"/><text class="t" x="244.15" y="469.4">βγ</text></g>
<g id="fak"><rect class="nd g" x="239" y="489" width="37.5" height="13.7"/><text class="t" x="257.75" y="499.4">FAK</text></g>
<g id="pten"><rect class="nd p" x="328.7" y="504.6" width="37.5" height="13.7"/><text class="t" x="347.45" y="515">PTEN</text></g>
<g id="nkx31"><rect class="nd p" x="378" y="489.5" width="37.5" height="13.7"/><text class="t" x="396.75" y="499.9" textLength="33" lengthAdjust="spacingAndGlyphs">NKX3.1</text></g>
<g id="pi3k"><rect class="nd" fill="url(#gPI3K)" x="335.5" y="557.3" width="37.5" height="13.7"/><text class="t" x="354.25" y="567.7">PI3K</text></g>
<g id="crk"><rect class="nd g" x="240" y="542.3" width="37.5" height="13.7"/><text class="t" x="258.75" y="552.7">CRKL</text><rect class="nd g" x="240" y="556" width="37.5" height="13.7"/><text class="t" x="258.75" y="566.4">CBL</text><rect class="nd g" x="240" y="569.7" width="37.5" height="13.7"/><text class="t" x="258.75" y="580.1">CRK</text></g>
<g id="bcrabl"><rect class="nd g" x="125" y="555.5" width="36.6" height="13.7"/><text class="t" x="143.3" y="565.9" textLength="33" lengthAdjust="spacingAndGlyphs">BCR-ABL</text></g>
<g id="aq11"><rect class="nd g" x="160" y="592" width="37.5" height="13.7"/><text class="t" x="178.75" y="602.4">αq/11</text></g>
<g id="plcb"><rect class="nd y" x="179" y="620.5" width="37.5" height="13.7"/><text class="t" x="197.75" y="630.9">PLCβ</text></g>
<g id="pkc1"><rect class="nd y" x="249.5" y="696" width="37.5" height="13.7"/><text class="t" x="268.25" y="706.4">PKC</text></g>
<g id="jak"><rect class="nd p" x="249.3" y="725.4" width="37.5" height="13.7"/><text class="t" x="268.05" y="735.8">Jak</text></g>
<g id="grb2"><rect class="nd g" x="177" y="821.6" width="39" height="13.7"/><text class="t" x="196.5" y="832">Grb2</text></g>
<g id="sos"><rect class="nd g" x="235" y="821.6" width="37.5" height="13.7"/><text class="t" x="253.75" y="832">Sos</text></g>
<g id="ras"><rect class="nd g" x="294.8" y="821.6" width="37.5" height="13.7"/><text class="t" x="313.55" y="832">Ras</text></g>
<g id="raf"><rect class="nd p" x="361" y="822.3" width="37.5" height="13.7"/><text class="t" x="379.75" y="832.7">Raf</text></g>
<g id="retptc"><rect class="nd g" x="194" y="850.5" width="37.5" height="13.7"/><text class="t" x="212.75" y="860.9" textLength="34" lengthAdjust="spacingAndGlyphs">RET/PTC</text></g>
<g id="rasgef"><rect class="nd p" x="250.8" y="786.3" width="37.5" height="13.7"/><text class="t" x="269.55" y="796.7" textLength="33" lengthAdjust="spacingAndGlyphs">RasGEF</text></g>
<g id="eml1"><rect class="nd p" x="273" y="765" width="37.5" height="13.7"/><text class="t" x="291.75" y="775.4" textLength="35" lengthAdjust="spacingAndGlyphs">EML4ALK</text></g>
<g id="nore1a"><rect class="nd p" x="368" y="763.2" width="37.5" height="13.7"/><text class="t" x="386.75" y="773.6" textLength="34" lengthAdjust="spacingAndGlyphs">NORE1A</text></g>
<g id="rassf1a"><rect class="nd g" x="254" y="879" width="37.5" height="13.7"/><text class="t" x="272.75" y="889.4" textLength="35" lengthAdjust="spacingAndGlyphs">RASSF1A</text></g>
<g id="ralgds"><rect class="nd g" x="376" y="891.5" width="37.5" height="13.7"/><text class="t" x="394.75" y="901.9" textLength="34" lengthAdjust="spacingAndGlyphs">RalGDS</text></g>
<g id="plcg"><rect class="nd p" x="175" y="957" width="37.5" height="13.7"/><text class="t" x="193.75" y="967.4">PLCγ</text></g>
<g id="eml2"><rect class="nd p" x="132.4" y="985.5" width="37.5" height="13.7"/><text class="t" x="151.15" y="995.9" textLength="35" lengthAdjust="spacingAndGlyphs">EML4ALK</text></g>
<g id="pkc2"><rect class="nd y" x="267" y="943.5" width="37.5" height="13.7"/><text class="t" x="285.75" y="953.9">PKC</text></g>
<g id="elk"><rect class="nd g" x="328.7" y="943.5" width="37.5" height="13.7"/><text class="t" x="347.45" y="953.9">Elk</text></g>
<g id="cam"><rect class="nd y" x="304.8" y="974.4" width="37.5" height="13.7"/><text class="t" x="323.55" y="984.8">CAM</text></g>
<g id="camk"><rect class="nd" fill="url(#gCAMK)" x="367" y="974.4" width="37.5" height="13.7"/><text class="t" x="385.75" y="984.8">CAMK</text></g>
<g id="ar_hsp"><rect class="nd g" x="391.6" y="109.6" width="37.5" height="13.7"/><text class="t" x="410.35" y="120">AR</text><rect class="nd p" x="391.6" y="123.3" width="37.5" height="13.7"/><text class="t" x="410.35" y="133.7">HSP</text></g>
<g id="ar_ar"><rect class="nd g" x="391.6" y="160.6" width="37.5" height="13.7"/><text class="t" x="410.35" y="171">AR</text><rect class="nd g" x="391.6" y="174.3" width="37.5" height="13.7"/><text class="t" x="410.35" y="184.7">AR</text></g>
<g id="shh"><rect class="nd p" x="529.8" y="27" width="37.5" height="13.7"/><text class="t" x="548.55" y="37.4">SHH</text></g>
<g id="ptch1"><rect class="nd y" x="529.8" y="67" width="37.5" height="13.7"/><text class="t" x="548.55" y="77.4">PTCH1</text></g>
<g id="smo"><rect class="nd y" x="595.7" y="67" width="37.5" height="13.7"/><text class="t" x="614.45" y="77.4">SMO</text></g>
<g id="kif7sufu"><rect class="nd g" x="558.2" y="134" width="37.5" height="13.7"/><text class="t" x="576.95" y="144.4">KIF7</text><rect class="nd g" x="595.7" y="134" width="37.5" height="13.7"/><text class="t" x="614.45" y="144.4">SUFU</text></g>
<g id="gli"><rect class="nd y" x="595.7" y="176" width="37.5" height="13.7"/><text class="t" x="614.45" y="186.4">GLI</text></g>
<g id="jagged"><rect class="nd p" x="669" y="27" width="37.5" height="13.7"/><text class="t" x="687.75" y="37.4">Jagged</text></g>
<g id="delta"><rect class="nd y" x="714.5" y="27" width="37.5" height="13.7"/><text class="t" x="733.25" y="37.4">Delta</text></g>
<g id="notch"><rect class="nd p" x="691" y="67" width="37.5" height="13.7"/><text class="t" x="709.75" y="77.4">Notch</text></g>
<g id="fh"><rect class="nd g" x="738.9" y="117.6" width="37.5" height="13.7"/><text class="t" x="757.65" y="128">FH</text></g>
<g id="hph"><rect class="nd g" x="814.9" y="101" width="37.5" height="13.7"/><text class="t" x="833.65" y="111.4">HPH</text></g>
<g id="vhlcomplex"><rect class="nd g" x="861.6" y="89" width="37.5" height="13.7"/><text class="t" x="880.35" y="99.4" textLength="35" lengthAdjust="spacingAndGlyphs">Elongin B</text><rect class="nd g" x="861.6" y="102.7" width="37.5" height="13.7"/><text class="t" x="880.35" y="113.1" textLength="35" lengthAdjust="spacingAndGlyphs">Elongin C</text><rect class="nd g" x="899.1" y="102.7" width="37.5" height="13.7"/><text class="t" x="917.85" y="113.1">CUL2</text><rect class="nd g" x="861.6" y="116.4" width="37.5" height="13.7"/><text class="t" x="880.35" y="126.8">VHL</text><rect class="nd g" x="899.1" y="116.4" width="37.5" height="13.7"/><text class="t" x="917.85" y="126.8">Rbx1</text></g>
<g id="hifa"><rect class="nd p" x="851.3" y="185.5" width="37.5" height="13.7"/><text class="t" x="870.05" y="195.9">HIF-α</text></g>
<g id="keap1"><rect class="nd g" x="969.4" y="166" width="37.5" height="13.7"/><text class="t" x="988.15" y="176.4">KEAP1</text></g>
<g id="nrf2"><rect class="nd g" x="969.4" y="196" width="37.5" height="13.7"/><text class="t" x="988.15" y="206.4">NRF2</text></g>
<g id="casp37"><rect class="nd p" x="1047.3" y="81.5" width="37.5" height="13.7"/><text class="t" x="1066.05" y="91.9" textLength="34" lengthAdjust="spacingAndGlyphs">CASP3/7</text></g>
<g id="casp9b"><rect class="nd y" x="1048" y="116" width="37.5" height="13.7"/><text class="t" x="1066.75" y="126.4">CASP9</text></g>
<g id="apaf1"><rect class="nd g" x="1026.2" y="146" width="37.5" height="13.7"/><text class="t" x="1044.95" y="156.4">Apaf-1</text></g>
<g id="cytc"><rect class="nd g" x="1047.3" y="159.3" width="37.5" height="13.7"/><text class="t" x="1066.05" y="169.7">CytC</text></g>
<g id="bak1"><rect class="nd p" x="1089" y="177" width="37.5" height="13.7"/><text class="t" x="1107.75" y="187.4">Bak</text></g>
<g id="bcl2bclxl"><rect class="nd g" x="1140" y="192" width="37.5" height="13.7"/><text class="t" x="1158.75" y="202.4">Bcl-2</text><rect class="nd p" x="1140" y="207.3" width="37.5" height="13.7"/><text class="t" x="1158.75" y="217.7">Bcl-XL</text></g>
<g id="fasl"><rect class="nd p" x="1192" y="24.7" width="37.5" height="13.7"/><text class="t" x="1210.75" y="35.1">FasL</text></g>
<g id="fas"><rect class="nd p" x="1192" y="66" width="37.5" height="13.7"/><text class="t" x="1210.75" y="76.4">Fas</text></g>
<g id="fadd"><rect class="nd g" x="1192" y="97" width="37.5" height="13.7"/><text class="t" x="1210.75" y="107.4">FADD</text></g>
<g id="casp8"><rect class="nd g" x="1192" y="126.8" width="37.5" height="13.7"/><text class="t" x="1210.75" y="137.2">CASP8</text></g>
<g id="bid"><rect class="nd g" x="1192" y="158.7" width="37.5" height="13.7"/><text class="t" x="1210.75" y="169.1">Bid</text></g>
<g id="bh3"><rect class="nd p" x="1201.7" y="184.5" width="37.5" height="13.7"/><text class="t" x="1220.45" y="194.9">NOXA</text><rect class="nd g" x="1242.5" y="184.5" width="37.5" height="13.7"/><text class="t" x="1261.25" y="194.9">PUMA</text><rect class="nd g" x="1201.7" y="202" width="37.5" height="13.7"/><text class="t" x="1220.45" y="212.4">Bad</text><rect class="nd g" x="1242.5" y="202" width="37.5" height="13.7"/><text class="t" x="1261.25" y="212.4">Bim</text></g>
<g id="tgfb1"><rect class="nd p" x="1313.4" y="24.7" width="37.5" height="13.7"/><text class="t" x="1332.15" y="35.1">TGFβ</text></g>
<g id="tgfbr"><rect class="nd g" x="1313.4" y="60" width="37.5" height="13.7"/><text class="t" x="1332.15" y="70.4" textLength="34" lengthAdjust="spacingAndGlyphs">TGFβRI</text><rect class="nd p" x="1313.4" y="73.7" width="37.5" height="13.7"/><text class="t" x="1332.15" y="84.1" textLength="35" lengthAdjust="spacingAndGlyphs">TGFβRII</text></g>
<g id="smad23"><rect class="nd g" x="1313.4" y="114.7" width="37.5" height="13.7"/><text class="t" x="1332.15" y="125.1" textLength="34" lengthAdjust="spacingAndGlyphs">Smad2/3</text></g>
<g id="smad4"><rect class="nd g" x="1369" y="114.7" width="37.5" height="13.7"/><text class="t" x="1387.75" y="125.1">Smad4</text></g>
<g id="gstp1"><rect class="nd g" x="1451.8" y="154.6" width="37.5" height="13.7"/><text class="t" x="1470.55" y="165">GSTP1</text></g>
<g id="evi1"><rect class="nd g" x="1358.7" y="233" width="37.5" height="13.7"/><text class="t" x="1377.45" y="243.4">EVI1</text><rect class="nd p" x="1358.7" y="250.5" width="37.5" height="13.7"/><text class="t" x="1377.45" y="260.9" textLength="35" lengthAdjust="spacingAndGlyphs">AML-EVI1</text></g>
<g id="ctbp"><rect class="nd y" x="1368.3" y="286.6" width="37.5" height="13.7"/><text class="t" x="1387.05" y="297">CtBP</text><rect class="nd g" x="1368.3" y="300.3" width="37.5" height="13.7"/><text class="t" x="1387.05" y="310.7">HDAC</text></g>
<g id="hmlh1"><rect class="nd g" x="1244.5" y="242" width="37.5" height="13.7"/><text class="t" x="1263.25" y="252.4">hMLH1</text></g>
<g id="hmsh2"><rect class="nd g" x="1244.5" y="259.7" width="37.5" height="13.7"/><text class="t" x="1263.25" y="270.1">hMSH2</text></g>
<g id="hmsh3"><rect class="nd g" x="1189.7" y="330.7" width="37.5" height="13.7"/><text class="t" x="1208.45" y="341.1">hMSH3</text><rect class="nd g" x="1189.7" y="348" width="37.5" height="13.7"/><text class="t" x="1208.45" y="358.4">hMSH6</text></g>
<g id="tgfbr2b"><rect class="nd p" x="1233.7" y="330.7" width="37.5" height="13.7"/><text class="t" x="1252.45" y="341.1" textLength="35" lengthAdjust="spacingAndGlyphs">TGFβRII</text></g>
<g id="bax1"><rect class="nd p" x="1146" y="330.7" width="37.5" height="13.7"/><text class="t" x="1164.75" y="341.1">Bax</text></g>
<g id="brca2"><rect class="nd g" x="1080" y="245" width="37.5" height="13.7"/><text class="t" x="1098.75" y="255.4">BRCA2</text><rect class="nd g" x="1080" y="258.7" width="37.5" height="13.7"/><text class="t" x="1098.75" y="269.1">Rad51</text></g>
<g id="glitargets"><rect class="nd g" x="616.3" y="256.3" width="37.5" height="13.7"/><text class="t" x="635.05" y="266.7">BMP</text><rect class="nd y" x="659.3" y="256.3" width="37.5" height="13.7"/><text class="t" x="678.05" y="266.7">GLI1</text><rect class="nd y" x="616.3" y="275.2" width="37.5" height="13.7"/><text class="t" x="635.05" y="285.6">HIP1</text><rect class="nd y" x="659.3" y="275.2" width="37.5" height="13.7"/><text class="t" x="678.05" y="285.6" textLength="34" lengthAdjust="spacingAndGlyphs">PTCH1,2</text><rect class="nd" fill="url(#gWnt2)" x="659.3" y="295.3" width="37.5" height="13.7"/><text class="t" x="678.05" y="305.7">Wnt</text></g>
<g id="notchtargets"><rect class="nd g" x="736.4" y="256.3" width="37.5" height="13.7"/><text class="t" x="755.15" y="266.7">HER2</text><rect class="nd y" x="715.5" y="275.7" width="37.5" height="13.7"/><text class="t" x="734.25" y="286.1">Hes</text><rect class="nd y" x="758.3" y="275.7" width="37.5" height="13.7"/><text class="t" x="777.05" y="286.1">Hey</text><rect class="nd g" x="736.4" y="295.8" width="37.5" height="13.7"/><text class="t" x="755.15" y="306.2" textLength="34" lengthAdjust="spacingAndGlyphs">VEGFR3</text></g>
<g id="psa"><rect class="nd g" x="656" y="330.7" width="37.5" height="13.7"/><text class="t" x="674.75" y="341.1">PSA</text></g>
<g id="gsk3b"><rect class="nd g" x="439.4" y="313" width="37.5" height="13.7"/><text class="t" x="458.15" y="323.4">GSK-3β</text></g>
<g id="bcatcomplex"><rect class="nd g" x="505.7" y="313" width="37.5" height="13.7"/><text class="t" x="524.45" y="323.4" textLength="34" lengthAdjust="spacingAndGlyphs">β-catenin</text><rect class="nd y" x="475.8" y="326.7" width="37.5" height="13.7"/><text class="t" x="494.55" y="337.1">Axin</text><rect class="nd y" x="513.3" y="326.7" width="37.5" height="13.7"/><text class="t" x="532.05" y="337.1">APC</text></g>
<g id="hifb"><rect class="nd p" x="813" y="233.4" width="37.5" height="13.7"/><text class="t" x="831.75" y="243.8">HIF-β</text></g>
<g id="p300"><rect class="nd g" x="890.5" y="249" width="37.5" height="13.7"/><text class="t" x="909.25" y="259.4" textLength="35" lengthAdjust="spacingAndGlyphs">p300/CBP</text></g>
<g id="hiftargets"><rect class="nd g" x="809.9" y="297" width="37.5" height="13.7"/><text class="t" x="828.65" y="307.4">Glut1</text><rect class="nd p" x="852" y="296.5" width="37.5" height="13.7"/><text class="t" x="870.75" y="306.9">VEGF</text><rect class="nd p" x="894.3" y="296.5" width="37.5" height="13.7"/><text class="t" x="913.05" y="306.9">TGFα</text><rect class="nd g" x="852" y="315" width="37.5" height="13.7"/><text class="t" x="870.75" y="325.4">PDGFβ</text><rect class="nd p" x="852" y="333.5" width="37.5" height="13.7"/><text class="t" x="870.75" y="343.9">TGFβ</text></g>
<g id="nrf2targets"><rect class="nd p" x="951" y="353.8" width="37.5" height="13.7"/><text class="t" x="969.75" y="364.2">HO-1</text><rect class="nd g" x="992.8" y="353.8" width="37.5" height="13.7"/><text class="t" x="1011.55" y="364.2">NQO1</text><rect class="nd" fill="url(#gGST)" x="951" y="371" width="37.5" height="13.7"/><text class="t" x="969.75" y="381.4">GSTs</text><rect class="nd g" x="992.8" y="371" width="37.5" height="13.7"/><text class="t" x="1011.55" y="381.4">TrxR1</text></g>
<g id="tcflef"><rect class="nd y" x="600.2" y="360.7" width="37.5" height="13.7"/><text class="t" x="618.95" y="371.1" textLength="34" lengthAdjust="spacingAndGlyphs">TCF/LEF</text></g>
<g id="survivin"><rect class="nd g" x="655.5" y="391.3" width="37.5" height="13.7"/><text class="t" x="674.25" y="401.7" textLength="34" lengthAdjust="spacingAndGlyphs">Survivin</text></g>
<g id="cmyc1"><rect class="nd p" x="657.2" y="415.8" width="37.5" height="13.7"/><text class="t" x="675.95" y="426.2">c-Myc</text><rect class="nd g" x="657.2" y="432.4" width="37.5" height="13.7"/><text class="t" x="675.95" y="442.8" textLength="34" lengthAdjust="spacingAndGlyphs">CyclinD1</text></g>
<g id="cox2"><rect class="nd p" x="644.7" y="454.4" width="37.5" height="13.7"/><text class="t" x="663.45" y="464.8">COX-2</text><rect class="nd g" x="644.7" y="470.6" width="37.5" height="13.7"/><text class="t" x="663.45" y="481">iNOS</text></g>
<g id="ikk"><rect class="nd g" x="475.5" y="454.9" width="37.5" height="13.7"/><text class="t" x="494.25" y="465.3">IKK</text></g>
<g id="ikba"><rect class="nd y" x="541.6" y="455.6" width="37.5" height="13.7"/><text class="t" x="560.35" y="466">IκBα</text></g>
<g id="nfkb"><rect class="nd p" x="541.6" y="483.3" width="37.5" height="13.7"/><text class="t" x="560.35" y="493.7">NFκB</text></g>
<g id="nfkbtargets"><rect class="nd p" x="688.1" y="491.4" width="37.5" height="13.7"/><text class="t" x="706.85" y="501.8">cIAPs</text><rect class="nd p" x="688.1" y="508.8" width="37.5" height="13.7"/><text class="t" x="706.85" y="519.2">TRAFs</text><rect class="nd p" x="646" y="508.8" width="37.5" height="13.7"/><text class="t" x="664.75" y="519.2">Bcl-XL</text><rect class="nd g" x="646" y="527.3" width="37.5" height="13.7"/><text class="t" x="664.75" y="537.7" textLength="34" lengthAdjust="spacingAndGlyphs">CyclinD1</text><rect class="nd g" x="605.7" y="522.7" width="37.5" height="13.7"/><text class="t" x="624.45" y="533.1">Bcl-2</text></g>
<g id="akt"><rect class="nd" fill="url(#gAkt)" x="394.6" y="537.7" width="37.5" height="13.7"/><text class="t" x="413.35" y="548.1" textLength="34" lengthAdjust="spacingAndGlyphs">PKB/Akt</text></g>
<g id="mtor"><rect class="nd g" x="478" y="540" width="37.5" height="13.7"/><text class="t" x="496.75" y="550.4">mTOR</text></g>
<g id="s6k"><rect class="nd g" x="538.4" y="540" width="37.5" height="13.7"/><text class="t" x="557.15" y="550.4">S6K</text></g>
<g id="casp9c"><rect class="nd y" x="478" y="563.1" width="37.5" height="13.7"/><text class="t" x="496.75" y="573.5">CASP9</text></g>
<g id="bad2"><rect class="nd g" x="478" y="586.2" width="37.5" height="13.7"/><text class="t" x="496.75" y="596.6">Bad</text></g>
<g id="bclxl3"><rect class="nd p" x="538.4" y="586.2" width="37.5" height="13.7"/><text class="t" x="557.15" y="596.6">Bcl-XL</text></g>
<g id="fkhr"><rect class="nd g" x="478" y="606.6" width="37.5" height="13.7"/><text class="t" x="496.75" y="617">FKHR</text></g>
<g id="mdm2a"><rect class="nd g" x="478" y="626.7" width="37.5" height="13.7"/><text class="t" x="496.75" y="637.1">MDM2</text></g>
<g id="p53a"><rect class="nd g" x="653.5" y="626.7" width="37.5" height="13.7"/><text class="t" x="672.25" y="637.1">p53</text></g>
<g id="p27"><rect class="nd y" x="478" y="648" width="37.5" height="13.7"/><text class="t" x="496.75" y="658.4">p27</text></g>
<g id="p21a"><rect class="nd p" x="478" y="673" width="37.5" height="13.7"/><text class="t" x="496.75" y="683.4">p21</text></g>
<g id="stat5"><rect class="nd p" x="431" y="696.8" width="37.5" height="13.7"/><text class="t" x="449.75" y="707.2">STAT5</text></g>
<g id="stats"><rect class="nd g" x="431" y="716.6" width="37.5" height="13.7"/><text class="t" x="449.75" y="727">STAT3</text><rect class="nd g" x="431" y="735" width="37.5" height="13.7"/><text class="t" x="449.75" y="745.4">STAT1</text></g>
<g id="stat246"><rect class="nd p" x="431" y="754.2" width="37.5" height="13.7"/><text class="t" x="449.75" y="764.6" textLength="35" lengthAdjust="spacingAndGlyphs">STAT2/4/6</text></g>
<g id="stat5targets"><rect class="nd g" x="637.1" y="689.2" width="37.5" height="13.7"/><text class="t" x="655.85" y="699.6">Pim1/2</text><rect class="nd p" x="637.1" y="705.4" width="37.5" height="13.7"/><text class="t" x="655.85" y="715.8">Bcl-XL</text></g>
<g id="vegf2"><rect class="nd p" x="637.1" y="726.3" width="37.5" height="13.7"/><text class="t" x="655.85" y="736.7">VEGF</text></g>
<g id="mst1"><rect class="nd g" x="517.3" y="754.2" width="37.5" height="13.7"/><text class="t" x="536.05" y="764.6">MST1</text></g>
<g id="cycd1c"><rect class="nd g" x="517.3" y="774.3" width="37.5" height="13.7"/><text class="t" x="536.05" y="784.7" textLength="34" lengthAdjust="spacingAndGlyphs">CyclinD1</text></g>
<g id="rassf1"><rect class="nd g" x="391.6" y="785.4" width="37.5" height="13.7"/><text class="t" x="410.35" y="795.8" textLength="34" lengthAdjust="spacingAndGlyphs">RASSF1</text></g>
<g id="mek"><rect class="nd g" x="425.3" y="822.3" width="37.5" height="13.7"/><text class="t" x="444.05" y="832.7">MEK</text></g>
<g id="erk"><rect class="nd y" x="537.9" y="821.6" width="37.5" height="13.7"/><text class="t" x="556.65" y="832">ERK</text></g>
<g id="dapk"><rect class="nd y" x="516.5" y="859.7" width="37.5" height="13.7"/><text class="t" x="535.25" y="870.1">DAPK</text></g>
<g id="aptargets"><rect class="nd p" x="620" y="794.4" width="37.5" height="13.7"/><text class="t" x="638.75" y="804.8">c-Jun</text><rect class="nd g" x="620" y="812.4" width="37.5" height="13.7"/><text class="t" x="638.75" y="822.8">c-Fos</text><rect class="nd p" x="620" y="830.9" width="37.5" height="13.7"/><text class="t" x="638.75" y="841.3">c-Myc</text><rect class="nd p" x="620" y="851.2" width="37.5" height="13.7"/><text class="t" x="638.75" y="861.6">Ets1</text></g>
<g id="msk1"><rect class="nd y" x="620" y="876.6" width="37.5" height="13.7"/><text class="t" x="638.75" y="887">MSK1</text></g>
<g id="aptg2"><rect class="nd p" x="708" y="784.7" width="37.5" height="13.7"/><text class="t" x="726.75" y="795.1">VEGF</text><rect class="nd p" x="708" y="803.2" width="37.5" height="13.7"/><text class="t" x="726.75" y="813.6">MMPs</text><rect class="nd g" x="708" y="821.2" width="37.5" height="13.7"/><text class="t" x="726.75" y="831.6">IL-8</text></g>
<g id="aptg3"><rect class="nd g" x="721.3" y="849.3" width="37.5" height="13.7"/><text class="t" x="740.05" y="859.7" textLength="34" lengthAdjust="spacingAndGlyphs">CyclinD1</text><rect class="nd y" x="721.3" y="867" width="37.5" height="13.7"/><text class="t" x="740.05" y="877.4">CDK4</text><rect class="nd p" x="721.3" y="887" width="37.5" height="13.7"/><text class="t" x="740.05" y="897.4">c-Myc</text></g>
<g id="ral"><rect class="nd p" x="421.8" y="928.5" width="37.5" height="13.7"/><text class="t" x="440.55" y="938.9">Ral</text></g>
<g id="ralbp1"><rect class="nd g" x="482" y="918.6" width="37.5" height="13.7"/><text class="t" x="500.75" y="929">RalBP1</text></g>
<g id="pld1"><rect class="nd y" x="482" y="940.5" width="37.5" height="13.7"/><text class="t" x="500.75" y="950.9">PLD1</text></g>
<g id="cdc42"><rect class="nd p" x="545.9" y="918.6" width="37.5" height="13.7"/><text class="t" x="564.65" y="929" textLength="35" lengthAdjust="spacingAndGlyphs">Cdc42/Rac</text></g>
<g id="racrho"><rect class="nd p" x="421.8" y="967" width="37.5" height="13.7"/><text class="t" x="440.55" y="977.4" textLength="34" lengthAdjust="spacingAndGlyphs">Rac/Rho</text></g>
<g id="jnk"><rect class="nd y" x="482" y="967" width="37.5" height="13.7"/><text class="t" x="500.75" y="977.4">JNK</text></g>
<g id="ppfp"><rect class="nd g" x="795.5" y="922.7" width="37.5" height="13.7"/><text class="t" x="814.25" y="933.1">PPFP</text></g>
<g id="rxr1"><rect class="nd y" x="831.5" y="900.6" width="36.2" height="13.7"/><text class="t" x="849.6" y="911">RXR</text></g>
<g id="pparg"><rect class="nd g" x="877.2" y="900.6" width="37.5" height="13.7"/><text class="t" x="895.95" y="911">PPARγ</text></g>
<g id="rarb"><rect class="nd g" x="924.2" y="886.9" width="37.5" height="13.7"/><text class="t" x="942.95" y="897.3">RARβ</text><rect class="nd y" x="924.2" y="900.6" width="37.5" height="13.7"/><text class="t" x="942.95" y="911">RXR</text></g>
<g id="ercomplex"><rect class="nd p" x="974.5" y="861.6" width="37.5" height="13.7"/><text class="t" x="993.25" y="872">ER</text><rect class="nd p" x="974.5" y="875.4" width="37.5" height="13.7"/><text class="t" x="993.25" y="885.8">CoR</text><rect class="nd p" x="974.5" y="889.4" width="37.5" height="13.7"/><text class="t" x="993.25" y="899.8" textLength="34" lengthAdjust="spacingAndGlyphs">AP1/SP1</text></g>
<g id="er2"><rect class="nd p" x="974.5" y="957.8" width="37.5" height="13.7"/><text class="t" x="993.25" y="968.2">ER</text></g>
<g id="ertargets"><rect class="nd g" x="1056.9" y="793.5" width="37.5" height="13.7"/><text class="t" x="1075.65" y="803.9" textLength="34" lengthAdjust="spacingAndGlyphs">CyclinD1</text><rect class="nd p" x="1056.9" y="812" width="37.5" height="13.7"/><text class="t" x="1075.65" y="822.4">c-Myc</text><rect class="nd p" x="1056.9" y="830.4" width="37.5" height="13.7"/><text class="t" x="1075.65" y="840.8">PPARδ</text></g>
<g id="tcf"><rect class="nd y" x="1022" y="952.7" width="37.5" height="13.7"/><text class="t" x="1040.75" y="963.1">TCF</text></g>
<g id="plako"><rect class="nd g" x="1057.6" y="975.1" width="37.5" height="13.7"/><text class="t" x="1076.35" y="985.5" textLength="35" lengthAdjust="spacingAndGlyphs">Plakoglobin</text></g>
<g id="p53targets"><rect class="nd" fill="url(#gGADD)" x="1074" y="481" width="37.5" height="13.7"/><text class="t" x="1092.75" y="491.4" textLength="34" lengthAdjust="spacingAndGlyphs">GADD45</text><rect class="nd p" x="1033" y="498.8" width="37.5" height="13.7"/><text class="t" x="1051.75" y="509.2">Bax</text><rect class="nd p" x="1074" y="498.8" width="37.5" height="13.7"/><text class="t" x="1092.75" y="509.2">Bak</text><rect class="nd p" x="1033" y="517.3" width="37.5" height="13.7"/><text class="t" x="1051.75" y="527.7">p48</text><rect class="nd g" x="1074" y="517.3" width="37.5" height="13.7"/><text class="t" x="1092.75" y="527.7">POLK</text></g>
<g id="p53b"><rect class="nd g" x="1155.5" y="446.3" width="37.5" height="13.7"/><text class="t" x="1174.25" y="456.7">p53</text></g>
<g id="mdm2b"><rect class="nd g" x="1192.9" y="476.4" width="37.5" height="13.7"/><text class="t" x="1211.65" y="486.8">MDM2</text></g>
<g id="p14arf"><rect class="nd g" x="1255" y="476.4" width="37.5" height="13.7"/><text class="t" x="1273.75" y="486.8" textLength="34" lengthAdjust="spacingAndGlyphs">p14/ARF</text></g>
<g id="mitf"><rect class="nd g" x="1254.3" y="444" width="37.5" height="13.7"/><text class="t" x="1273.05" y="454.4">MITF</text></g>
<g id="tert"><rect class="nd g" x="1276" y="519.9" width="37.5" height="13.7"/><text class="t" x="1294.75" y="530.3">TERT</text><rect class="nd y" x="1276" y="533.6" width="37.5" height="13.7"/><text class="t" x="1294.75" y="544">hTR</text></g>
<g id="p21b"><rect class="nd p" x="1130.5" y="552.3" width="37.5" height="13.7"/><text class="t" x="1149.25" y="562.7">p21</text></g>
<g id="p16"><rect class="nd g" x="1057" y="549.3" width="37.5" height="13.7"/><text class="t" x="1075.75" y="559.7" textLength="35" lengthAdjust="spacingAndGlyphs">p16INK4a</text></g>
<g id="cdk46"><rect class="nd y" x="1087" y="584.4" width="35.5" height="13.7"/><text class="t" x="1104.75" y="594.8" textLength="33" lengthAdjust="spacingAndGlyphs">CDK4/6</text><rect class="nd g" x="1087" y="598.1" width="35.5" height="13.7"/><text class="t" x="1104.75" y="608.5" textLength="33" lengthAdjust="spacingAndGlyphs">CyclinD</text></g>
<g id="rb"><rect class="nd g" x="1010.9" y="590.9" width="37.5" height="13.7"/><text class="t" x="1029.65" y="601.3">Rb</text></g>
<g id="e2f1"><rect class="nd g" x="1010.9" y="621.4" width="37.5" height="13.7"/><text class="t" x="1029.65" y="631.8">E2F</text></g>
<g id="cdk2"><rect class="nd g" x="1069.4" y="630.7" width="37.5" height="13.7"/><text class="t" x="1088.15" y="641.1">CDK2</text><rect class="nd y" x="1069.4" y="644.4" width="37.5" height="13.7"/><text class="t" x="1088.15" y="654.8">CyclinE</text></g>
<g id="p27kip"><rect class="nd y" x="1134.8" y="660.3" width="37.5" height="13.7"/><text class="t" x="1153.55" y="670.7" textLength="35" lengthAdjust="spacingAndGlyphs">p27/Kip1</text></g>
<g id="p15"><rect class="nd g" x="1161" y="594.3" width="37.5" height="13.7"/><text class="t" x="1179.75" y="604.7" textLength="35" lengthAdjust="spacingAndGlyphs">p15INK4b</text></g>
<g id="miz1"><rect class="nd g" x="1265.1" y="594.3" width="37.5" height="13.7"/><text class="t" x="1283.85" y="604.7">Miz1</text></g>
<g id="cmycmax"><rect class="nd p" x="1328" y="600" width="37.5" height="13.7"/><text class="t" x="1346.75" y="610.4">c-Myc</text><rect class="nd p" x="1328" y="613.7" width="37.5" height="13.7"/><text class="t" x="1346.75" y="624.1">Max</text></g>
<g id="cks1"><rect class="nd g" x="1200.2" y="664.9" width="37.5" height="13.7"/><text class="t" x="1218.95" y="675.3">CKS1</text></g>
<g id="scf"><rect class="nd g" x="1164" y="700" width="37.5" height="13.7"/><text class="t" x="1182.75" y="710.4">SCF</text><rect class="nd g" x="1164" y="713.7" width="37.5" height="13.7"/><text class="t" x="1182.75" y="724.1">Skp2</text></g>
<g id="cyca1"><rect class="nd g" x="1150" y="826" width="37.5" height="13.7"/><text class="t" x="1168.75" y="836.4" textLength="34" lengthAdjust="spacingAndGlyphs">CyclinA1</text></g>
<g id="plzf"><rect class="nd g" x="1150" y="911.6" width="37.5" height="13.7"/><text class="t" x="1168.75" y="922" textLength="35" lengthAdjust="spacingAndGlyphs">PLZF-RARα</text></g>
<g id="pmlrara"><rect class="nd p" x="1199.2" y="911.6" width="37.5" height="13.7"/><text class="t" x="1217.95" y="922" textLength="35" lengthAdjust="spacingAndGlyphs">PML-RARα</text></g>
<g id="aml1eto"><rect class="nd p" x="1265.9" y="911.6" width="37.5" height="13.7"/><text class="t" x="1284.65" y="922" textLength="35" lengthAdjust="spacingAndGlyphs">AML1-ETO</text></g>
<g id="pu1a"><rect class="nd p" x="1233.2" y="866.6" width="37.5" height="13.7"/><text class="t" x="1251.95" y="877">PU.1</text></g>
<g id="pu1b"><rect class="nd p" x="1279.7" y="866.6" width="37.5" height="13.7"/><text class="t" x="1298.45" y="877">PU.1</text></g>
<g id="cebpa1"><rect class="nd g" x="1328.8" y="866.6" width="37.5" height="13.7"/><text class="t" x="1347.55" y="877">C/EBPα</text></g>
<g id="cebpa2"><rect class="nd g" x="1377.8" y="866.6" width="37.5" height="13.7"/><text class="t" x="1396.55" y="877">C/EBPα</text></g>
<g id="aml1"><rect class="nd p" x="1448.8" y="867" width="37.5" height="13.7"/><text class="t" x="1467.55" y="877.4">AML1</text></g>
<g id="pu1targets"><rect class="nd g" x="1237.5" y="749.4" width="37.5" height="13.7"/><text class="t" x="1256.25" y="759.8" textLength="34" lengthAdjust="spacingAndGlyphs">GMCSFR</text><rect class="nd p" x="1237.5" y="767" width="37.5" height="13.7"/><text class="t" x="1256.25" y="777.4">GCSFR</text><rect class="nd p" x="1277.2" y="767" width="37.5" height="13.7"/><text class="t" x="1295.95" y="777.4">MCSFR</text></g>
<g id="cebptargets"><rect class="nd p" x="1335" y="749.4" width="37.5" height="13.7"/><text class="t" x="1353.75" y="759.8">GCSFR</text><rect class="nd g" x="1377.8" y="749.4" width="37.5" height="13.7"/><text class="t" x="1396.55" y="759.8">E2F</text><rect class="nd p" x="1335" y="767" width="37.5" height="13.7"/><text class="t" x="1353.75" y="777.4">IL-6</text><rect class="nd p" x="1377.8" y="767" width="37.5" height="13.7"/><text class="t" x="1396.55" y="777.4">c-Myc</text></g>
<g id="aml1targets"><rect class="nd p" x="1432.4" y="749.4" width="37.5" height="13.7"/><text class="t" x="1451.15" y="759.8">MCSFR</text><rect class="nd w" x="1432.4" y="767" width="37.5" height="13.7"/><text class="t" x="1451.15" y="777.4">TCR</text></g>
</g>
<g id="compounds">
<circle class="c" cx="328" cy="36" r="2.6"/><circle class="c" cx="397.6" cy="35.4" r="2.6"/><circle class="c" cx="462.5" cy="35.4" r="2.6"/><circle class="c" cx="585.6" cy="33.8" r="2.6"/>
<circle class="c" cx="786.7" cy="108" r="2.6"/><circle class="c" cx="786.7" cy="144.3" r="2.6"/>
<circle class="c" cx="955" cy="103.5" r="2.6"/><circle class="c" cx="983.3" cy="103.5" r="2.6"/><circle class="c" cx="1009" cy="103.5" r="2.6"/><circle class="c" cx="955" cy="125.6" r="2.6"/><circle class="c" cx="983.3" cy="125.6" r="2.6"/><circle class="c" cx="1009" cy="125.6" r="2.6"/><circle class="c" cx="954.4" cy="149" r="2.6"/>
<circle class="c" cx="1152.9" cy="305" r="2.6"/><circle class="c" cx="1209.3" cy="303.8" r="2.6"/>
<circle class="c" cx="1348.7" cy="520.8" r="2.6"/><circle class="c" cx="1348.7" cy="545.8" r="2.6"/>
<circle class="c" cx="56.8" cy="375" r="2.6"/><circle class="c" cx="44" cy="429.5" r="2.6"/><circle class="c" cx="294.8" cy="429.7" r="2.6"/><circle class="c" cx="372.7" cy="542.3" r="2.6"/>
<circle class="c" cx="186.7" cy="660.3" r="2.6"/><circle class="c" cx="209" cy="660.3" r="2.6"/><circle class="c" cx="186.7" cy="685.7" r="2.6"/>
<circle class="c" cx="236" cy="948.6" r="2.6"/><circle class="c" cx="236" cy="979.7" r="2.6"/><circle class="c" cx="276.4" cy="980.4" r="2.6"/><circle class="c" cx="553.4" cy="946.3" r="2.6"/>
<circle class="c" cx="872.7" cy="981.6" r="2.6"/><circle class="c" cx="941.8" cy="983.2" r="2.6"/>
<circle class="c" cx="992.8" cy="919.7" r="2.6"/><circle class="c" cx="992.8" cy="987.8" r="2.6"/><circle class="c" cx="992.8" cy="1027" r="2.6"/>
<circle class="c" cx="1440.8" cy="30.8" r="2.6"/>
</g>
<g id="labels">
<text class="s" x="338" y="42">Testosterone</text>
<text class="s" x="403.4" y="39.5">Dihydro-</text><text class="s" x="403.4" y="48">testosterone</text>
<text class="s" x="469.5" y="39.5">Other</text><text class="s" x="469.5" y="48">Ligands</text>
<text class="s" x="574.8" y="45.5">Cholesterol</text>
<text class="s" x="953" y="87.5">Oxidative or</text><text class="s" x="953" y="96">electrophilic stress</text>
<text class="s" x="951" y="115.5">Acro</text><text class="s" x="977.7" y="115.5">O2-</text><text class="s" x="1003.6" y="115.5">HO2</text>
<text class="s" x="946" y="138">4HNE</text><text class="s" x="980" y="138">H2O2</text><text class="s" x="1011.5" y="138">OH</text>
<text class="s" x="959" y="154">NO</text>
<text class="s" x="1144.8" y="295.5">DNA</text><text class="s" x="1194" y="296">DNA</text>
<text class="s" x="1150" y="396">DNA damage</text>
<text class="s" x="1341.4" y="515.5">DNA</text><text class="s" x="1330.5" y="560">Telomeric</text><text class="s" x="1330.5" y="568.5">DNA repeats</text>
<text class="s" x="32" y="379.5">LPA</text>
<text class="sm" x="46.5" y="444">PGE2</text>
<text class="sm" x="297.8" y="442">cAMP</text>
<text class="s" x="342" y="545">PIP<tspan font-size="6.5" dy="2">3</tspan></text>
<text class="s" x="169" y="656.5">IP<tspan font-size="6.5" dy="2">3</tspan></text>
<text class="s" x="212.5" y="656.5">DAG</text>
<text class="s" x="191.5" y="689">Ca<tspan font-size="6.5" dy="-3">2+</tspan></text>
<text class="s" x="231" y="963">DAG</text>
<text class="s" x="231" y="993.5">IP<tspan font-size="6.5" dy="2">3</tspan></text>
<text class="s" x="270" y="996">Ca<tspan font-size="6.5" dy="-3">2+</tspan></text>
<text class="sm" x="553.4" y="960.5">PA</text>
<text class="sm" x="873.5" y="996">Ligands</text>
<text class="sm" x="943.5" y="996">Retinoic acid</text>
<text class="s" x="998" y="922.5">E2</text><text class="s" x="998" y="990.6">E2</text><text class="s" x="998" y="1030">E2</text>
<text class="s" x="1433" y="33" text-anchor="end">Carcinogens</text>
<text class="s" x="1193" y="789.5">RARα</text><text class="s" x="1193" y="798">target genes</text>
<text class="s" x="1244" y="791.5">PU.1</text><text class="s" x="1244" y="800.5">target genes</text>
<text class="s" x="1351" y="791.5">C/EBPα</text><text class="s" x="1351" y="800.5">target genes</text>
<text class="s" x="1428" y="791.5">AML1</text><text class="s" x="1428" y="800.5">target genes</text>
<text class="sm" x="1299" y="828" style="font-size:7px">?</text>
<text class="s" x="20" y="1051">05200 12/9/20</text>
<text class="s" x="20" y="1060">(c) Kanehisa Laboratories</text>
<text class="pp" x="228" y="553">+p</text>
<text class="pp" x="196" y="947">+p</text>
<text class="pp" x="481" y="313">+p</text>
<text class="pp" x="438" y="341">+p</text>
<text class="pp" x="529" y="475">+p</text>
<text class="pp" x="475" y="481">+p</text>
<text class="pp" x="469" y="538">+p</text>
<text class="pp" x="521" y="539">+p</text>
<text class="pp" x="462" y="574">+p</text>
<text class="pp" x="462" y="597">+p</text>
<text class="pp" x="470" y="604">+p</text>
<text class="pp" x="466" y="638">+p</text>
<text class="pp" x="455" y="659">+p</text>
<text class="pp" x="462" y="684">+p</text>
<text class="pp" x="408" y="727">+p</text>
<text class="pp" x="403" y="838">+p</text>
<text class="pp" x="519" y="841">+p</text>
<text class="pp" x="607" y="820">+p</text>
<text class="pp" x="607" y="885">+p</text>
<text class="pp" x="1338" y="111">+p</text>
<text class="pp" x="1059" y="594">+p</text>
<text class="pp" x="1061" y="617">+p</text>
<text class="pp" x="370" y="530">-p</text>
<text class="e" x="630.8" y="323">e</text>
<text class="e" x="638" y="240">e</text>
<text class="e" x="731.4" y="240.5">e</text>
<text class="e" x="870" y="279">e</text>
<text class="e" x="987.8" y="316">e</text>
<text class="e" x="1332.3" y="303">e</text>
<text class="e" x="1440.8" y="268">e</text>
<text class="e" x="634.6" y="391.5">e</text>
<text class="e" x="622" y="492.5">e</text>
<text class="e" x="610.7" y="706">e</text>
<text class="e" x="610.7" y="735">e</text>
<text class="e" x="682.4" y="831">e</text>
<text class="e" x="686" y="886">e</text>
<text class="e" x="871" y="834">e</text>
<text class="e" x="942" y="834">e</text>
<text class="e" x="1028.5" y="847">e</text>
<text class="e" x="1076.2" y="880">e</text>
<text class="e" x="1128.5" y="875">e</text>
<text class="e" x="1168.7" y="872">e</text>
<text class="e" x="1217.3" y="837">e</text>
<text class="e" x="1253.8" y="835">e</text>
<text class="e" x="1348.7" y="837">e</text>
<text class="e" x="1395.5" y="837">e</text>
<text class="e" x="1431.2" y="836">e</text>
<text class="e" x="1466.4" y="836">e</text>
<text class="e" x="1315" y="453">e</text>
<text class="e" x="1139" y="493">e</text>
<text class="e" x="1161" y="511">e</text>
<text class="e" x="1029.5" y="653">e</text>
<text class="e" x="1226" y="603.5">e</text>
<text class="e" x="1270" y="642">e</text>
</g>
</g>
</svg>
